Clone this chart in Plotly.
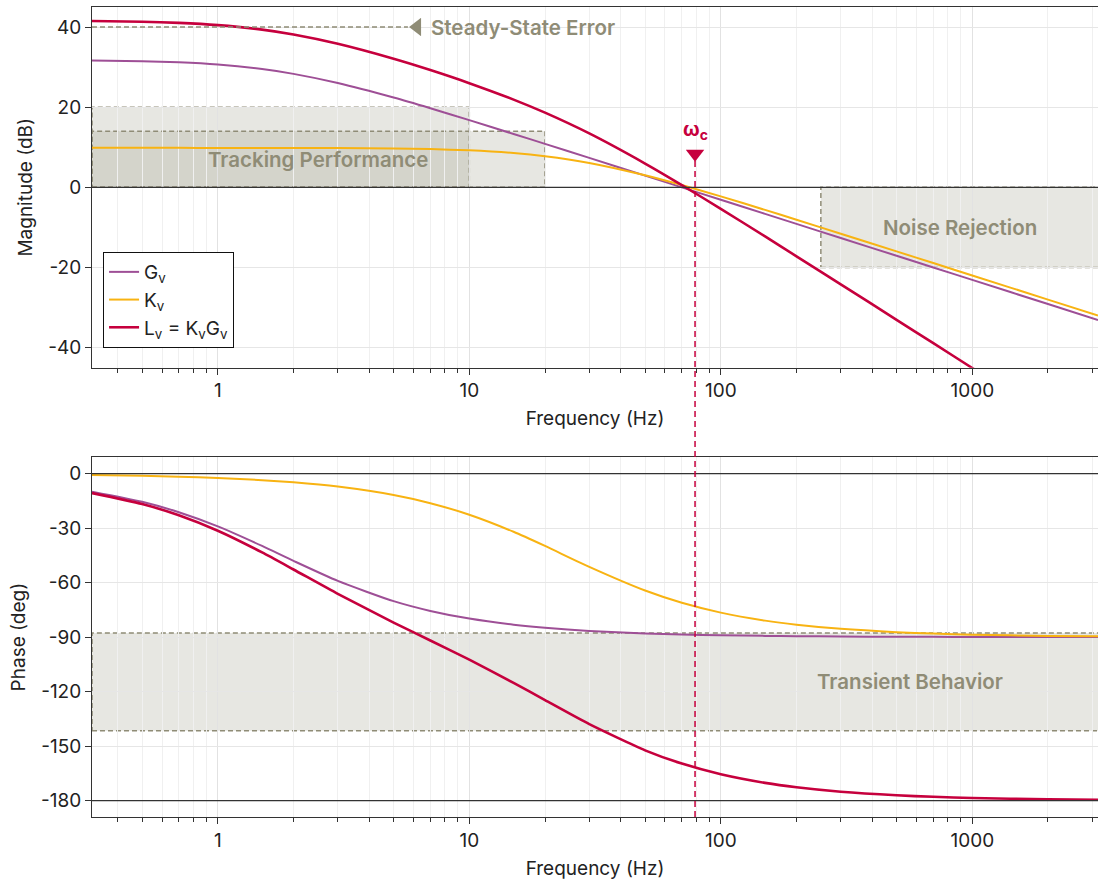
import numpy as np
import plotly.graph_objects as go

# Frequency samples (Hz)
freq = [0.316, 0.5, 0.7, 1, 1.5, 2, 3, 5, 7, 10, 15, 20, 30, 50, 70, 100,
        150, 200, 300, 500, 700, 1000, 2000, 3162]

# Plant G_v
g_mag = [31.67, 31.48, 31.19, 30.63, 29.51, 28.31, 26.03, 22.40, 19.73, 16.77,
         13.32, 10.85, 7.35, 2.92, 0.0, -3.10, -6.62, -9.12, -12.64, -17.07,
         -20.0, -23.09, -29.12, -33.09]
g_phase = [-9.96, -15.52, -21.25, -29.05, -39.81, -48.01, -59.04, -70.20, -75.58,
           -79.80, -83.16, -84.86, -86.57, -87.94, -88.53, -88.97, -89.31, -89.48,
           -89.66, -89.79, -89.85, -89.90, -89.95, -89.97]

# Controller K_v
k_mag = [9.85, 9.85, 9.85, 9.84, 9.84, 9.82, 9.79, 9.69, 9.54, 9.23, 8.57, 7.78,
         6.10, 3.02, 0.57, -2.26, -5.63, -8.08, -11.56, -15.98, -18.89, -21.99,
         -28.01, -31.99]
k_phase = [-0.75, -1.19, -1.67, -2.39, -3.58, -4.76, -7.13, -11.77, -16.26, -22.62,
           -32.01, -39.81, -51.34, -64.36, -71.08, -76.50, -80.91, -83.16, -85.43,
           -87.25, -88.04, -88.63, -89.31, -89.57]

# Open loop L_v = K_v G_v
l_mag = [41.52, 41.33, 41.04, 40.47, 39.35, 38.13, 35.82, 32.09, 29.27, 26.00,
         21.89, 18.63, 13.45, 5.94, 0.57, -5.36, -12.25, -17.20, -24.20, -33.05,
         -38.89, -45.08, -57.13, -65.08]
l_phase = [-10.71, -16.71, -22.92, -31.44, -43.39, -52.77, -66.17, -81.97, -91.84,
           -102.42, -115.17, -124.67, -137.91, -152.30, -159.61, -165.47, -170.22,
           -172.64, -175.09, -177.04, -177.89, -178.53, -179.26, -179.54]

# Specification regions
crossover_hz = 79
steady_state_db = 40
tracking_bounds = [(10, 20), (20, 14)]      # (upper frequency, upper dB)
noise_start_hz = 250
noise_floor_db = -20
transient_band = (-141.5, -87.7)

mag_ticks = [-40, -20, 0, 20, 40]
phase_ticks = [0, -30, -60, -90, -120, -150, -180]
freq_ticks = [1, 10, 100, 1000]
minor_ticks = [0.4, 0.5, 0.6, 0.7, 0.8, 0.9] + [m * d for d in (1, 10, 100) for m in range(2, 10)] + [2000, 3000]

RED = "#C6003D"
PURPLE = "#9E4F96"
YELLOW = "#F8B312"
OLIVE = "#8F8C76"
BOX_FILL = "rgba(143,140,118,0.21)"
FONT = "Inter"

XMIN, XMAX = 0.316, 3162

fig = go.Figure()

series = [
    ("G<sub>v</sub>", g_mag, g_phase, PURPLE, 2),
    ("K<sub>v</sub>", k_mag, k_phase, YELLOW, 2),
    ("L<sub>v</sub> = K<sub>v</sub>G<sub>v</sub>", l_mag, l_phase, RED, 2.6),
]
for name, mag, ph, col, w in series:
    fig.add_trace(go.Scatter(x=freq, y=mag, mode="lines", name=name,
                             line=dict(color=col, width=w, shape="spline", smoothing=0.6),
                             xaxis="x", yaxis="y"))
for name, mag, ph, col, w in series:
    fig.add_trace(go.Scatter(x=freq, y=ph, mode="lines", name=name, showlegend=False,
                             line=dict(color=col, width=w, shape="spline", smoothing=0.6),
                             xaxis="x2", yaxis="y2"))

# Markers: steady-state arrow head and crossover marker
fig.add_trace(go.Scatter(x=[6.2], y=[steady_state_db], mode="markers", showlegend=False,
                         marker=dict(symbol="triangle-left", size=16, color=OLIVE),
                         xaxis="x", yaxis="y", hoverinfo="skip"))
fig.add_trace(go.Scatter(x=[crossover_hz], y=[8.4], mode="markers", showlegend=False,
                         marker=dict(symbol="triangle-down", size=16, color=RED),
                         xaxis="x", yaxis="y", hoverinfo="skip"))

shapes = []
box_line = dict(color=OLIVE, width=1.5, dash="5px,3px")
for f_hi, db_hi in tracking_bounds:
    shapes.append(dict(type="rect", xref="x", yref="y", x0=XMIN, x1=f_hi, y0=0, y1=db_hi,
                       fillcolor=BOX_FILL, line=box_line, layer="below"))
shapes.append(dict(type="rect", xref="x", yref="y", x0=noise_start_hz, x1=XMAX * 1.2,
                   y0=noise_floor_db, y1=0, fillcolor=BOX_FILL, line=box_line, layer="below"))
shapes.append(dict(type="rect", xref="x2 domain", yref="y2", x0=0, x1=1.01,
                   y0=transient_band[0], y1=transient_band[1], fillcolor=BOX_FILL,
                   line=box_line, layer="below"))
shapes.append(dict(type="line", xref="x", yref="y", x0=XMIN, x1=5.7,
                   y0=steady_state_db, y1=steady_state_db,
                   line=dict(color=OLIVE, width=1.5, dash="5px,3px")))
# reference lines
shapes.append(dict(type="line", xref="x domain", yref="y", x0=0, x1=1, y0=0, y1=0,
                   line=dict(color="#333333", width=1.3)))
for yv in (0, -180):
    shapes.append(dict(type="line", xref="x2 domain", yref="y2", x0=0, x1=1, y0=yv, y1=yv,
                       line=dict(color="#333333", width=1.3)))
# crossover frequency line through both panels
shapes.append(dict(type="line", xref="x", yref="paper", x0=crossover_hz, x1=crossover_hz,
                   y0=0, y1=0.81, line=dict(color=RED, width=1.5, dash="6px,4px")))

ann_font = dict(family=FONT, size=20.5, color=OLIVE, weight=600)
annotations = [
    dict(x=np.log10(2.5), y=6.9, xref="x", yref="y", text="Tracking Performance",
         showarrow=False, font=ann_font),
    dict(x=np.log10(6.9), y=steady_state_db, xref="x", yref="y", text="Steady-State Error",
         showarrow=False, xanchor="left", font=ann_font),
    dict(x=np.log10(891), y=-10, xref="x", yref="y", text="Noise Rejection",
         showarrow=False, font=ann_font),
    dict(x=np.log10(565), y=-114.6, xref="x2", yref="y2", text="Transient Behavior",
         showarrow=False, font=ann_font),
    dict(x=np.log10(crossover_hz), y=14.4, xref="x", yref="y", text="ω<sub>c</sub>",
         showarrow=False, font=dict(family=FONT, size=20, color=RED, weight=700)),
]

tick_font = dict(family=FONT, size=19, color="#222222")
title_font = dict(family=FONT, size=19, color="#222222")

def xaxis(anchor):
    return dict(type="log", range=[np.log10(XMIN), np.log10(XMAX)], anchor=anchor,
                tickvals=freq_ticks, ticktext=[str(t) for t in freq_ticks],
                ticks="outside", ticklen=6, tickcolor="#333333",
                showgrid=True, gridcolor="#e2e2e2", gridwidth=1,
                minor=dict(tickvals=minor_ticks, ticks="outside", ticklen=4,
                           tickcolor="#333333", showgrid=True, gridcolor="#f0f0f0"),
                showline=True, linecolor="#333333", linewidth=1, mirror=True,
                zeroline=False, tickfont=tick_font,
                title=dict(text="Frequency (Hz)", font=title_font, standoff=10))

fig.update_layout(
    width=1098, height=882,
    margin=dict(l=92, r=0, t=7, b=65),
    paper_bgcolor="white", plot_bgcolor="white",
    font=dict(family=FONT, size=19, color="#222222"),
    xaxis=xaxis("y"),
    xaxis2=xaxis("y2"),
    yaxis=dict(domain=[0.5547, 1.0], range=[-45, 45], tickvals=mag_ticks,
               ticktext=[str(t) for t in mag_ticks],
               ticks="outside", ticklen=6, tickcolor="#333333",
               showgrid=True, gridcolor="#e6e6e6", zeroline=False,
               showline=True, linecolor="#333333", mirror=True, tickfont=tick_font,
               title=dict(text="Magnitude (dB)", font=title_font, standoff=10)),
    yaxis2=dict(domain=[0.0, 0.4441], range=[-189, 9], tickvals=phase_ticks,
                ticktext=[str(t) for t in phase_ticks],
                ticks="outside", ticklen=6, tickcolor="#333333",
                showgrid=True, gridcolor="#e6e6e6", zeroline=False,
                showline=True, linecolor="#333333", mirror=True, tickfont=tick_font,
                title=dict(text="Phase (deg)", font=title_font, standoff=10)),
    legend=dict(x=0.011, y=0.6975, xanchor="left", yanchor="top",
                bgcolor="white", bordercolor="#111111", borderwidth=1,
                font=dict(family=FONT, size=19, color="#222222"),
                itemwidth=30, tracegroupgap=2),
    shapes=shapes,
    annotations=annotations,
    showlegend=True,
)

fig.write_html("out.html")
